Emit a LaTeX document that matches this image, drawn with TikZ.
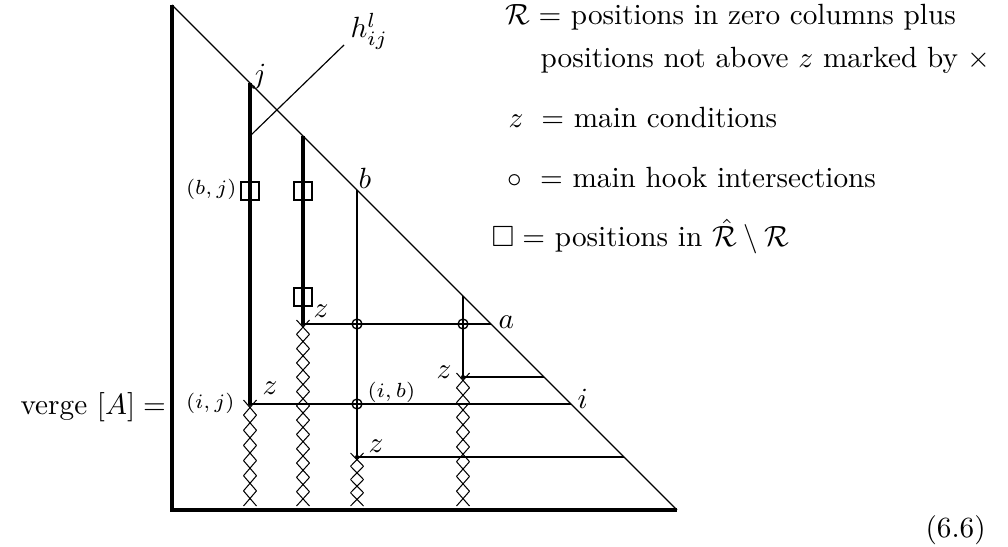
\documentclass[tikz,border=0pt]{standalone}
\usepackage{amsmath,amssymb}
\usetikzlibrary{positioning}

\tikzset{
  frame/.style={line width=1.15pt},
  heavycol/.style={line width=1.15pt},
  hookline/.style={line width=0.75pt},
  diag/.style={line width=0.4pt},
  xmark/.style={line width=0.35pt},
  boxmark/.style={draw, line width=0.7pt, minimum size=6.2pt, inner sep=0pt},
  hookmark/.style={draw, circle, line width=0.45pt, minimum size=3.4pt, inner sep=0pt},
  zdot/.style={fill, circle, minimum size=1.4pt, inner sep=0pt},
  lbl/.style={inner sep=0pt},
  smalllbl/.style={inner sep=0pt, font=\scriptsize},
}

% chain of crosses below a main condition
\newcommand{\xchain}[4]{%
  \pgfmathsetmacro{\xstep}{(#3-#2)/#4}
  \foreach \k in {1,...,#4}
    \draw[xmark] ({#1-6.5},{#2+(\k-1)*\xstep}) -- ({#1+6.5},{#2+\k*\xstep})
                 ({#1+6.5},{#2+(\k-1)*\xstep}) -- ({#1-6.5},{#2+\k*\xstep});
}

\begin{document}
\begin{tikzpicture}[x=0.342pt, y=-0.342pt]
  \useasboundingbox (0,0) rectangle (1008,547);

  % Triangle
  \coordinate (top) at (172,5);
  \coordinate (bl) at (172,510);
  \coordinate (br) at (677,510);
  \draw[frame] (top) -- (bl) -- (br);
  \draw[diag] (top) -- (br);

  % Column tops on the diagonal
  \coordinate (tj) at (250,83);
  \coordinate (t2) at (303,136);
  \coordinate (tb) at (357,190);
  \coordinate (ta) at (463,296);

  % Main conditions
  \node (ij) [zdot] at (250,404) {};
  \node (z2) [zdot] at (303,324) {};
  \node (zb) [zdot] at (357,457) {};
  \node (za) [zdot] at (463,377) {};

  % Row ends on the diagonal
  \coordinate (ea) at (491,324);
  \coordinate (e3) at (544,377);
  \coordinate (ei) at (571,404);
  \coordinate (e4) at (624,457);

  % Hooks
  \draw[heavycol] (tj) -- (ij.center);
  \draw[heavycol] (t2) -- (z2.center);
  \draw[hookline] (tb) -- (zb.center);
  \draw[hookline] (ta) -- (za.center);
  \draw[hookline] (z2.center) -- (ea);
  \draw[hookline] (za.center) -- (e3);
  \draw[hookline] (ij.center) -- (ei);
  \draw[hookline] (zb.center) -- (e4);

  % Hook intersections
  \node (ba) [hookmark] at (357,324) {};
  \node (aa) [hookmark] at (463,324) {};
  \node (ib) [hookmark] at (357,404) {};

  % Positions in R-hat minus R
  \node (bj) [boxmark] at (250,191) {};
  \node (b2) [boxmark] at (303,191) {};
  \node (c2) [boxmark] at (303,297) {};

  % Crosses
  \xchain{250}{400}{506}{7}
  \xchain{303}{320}{506}{13}
  \xchain{357}{453}{506}{4}
  \xchain{463}{373}{506}{9}

  % The hook h
  \coordinate (h0) at (250,136);
  \coordinate (h1) at (344,45);
  \draw[diag] (h0) -- (h1);
  \node (hl) [lbl, anchor=base west] at (350,38) {$h^l_{ij}$};

  % Labels
  \node (lj) [lbl, anchor=base west] at (252,84) {$j$};
  \node (lb) [lbl, anchor=base west] at (358,189) {$b$};
  \node (la) [lbl, anchor=base west] at (498,329) {$a$};
  \node (li) [lbl, anchor=base west] at (577,408) {$i$};
  \node (lz1) [lbl, anchor=base west] at (262,395) {$z$};
  \node (lz2) [lbl, anchor=base west] at (313,318) {$z$};
  \node (lz3) [lbl, anchor=base west] at (368,452) {$z$};
  \node (lz4) [lbl, anchor=base east] at (452,378) {$z$};
  \node (lib) [smalllbl, anchor=base west] at (367,398) {$(i,b)$};
  \node (lij) [smalllbl, anchor=base east] at (235,408) {$(i,j)$};
  \node (lbj) [smalllbl, anchor=base east] at (237,195) {$(b,j)$};

  % Legend
  \node (r1) [lbl, anchor=base west] at (505,25) {$\mathcal{R} =$ positions in zero columns plus};
  \node (r2) [lbl, anchor=base west] at (540,68) {positions not above $z$ marked by $\times$};
  \node (r3) [lbl, anchor=base west] at (508,128) {$z\ =$ main conditions};
  \node (r4) [lbl, anchor=base west] at (507,188) {$\circ\ =$ main hook intersections};
  \node (r5) [lbl, anchor=base west] at (491,247) {$\square =$ positions in $\hat{\mathcal{R}}\setminus\mathcal{R}$};

  % Left side and tag
  \node (verge) [lbl, anchor=base west] at (20,414) {verge $[A] =$};
  \node (tag) [lbl, anchor=base west] at (925,537) {(6.6)};
\end{tikzpicture}
\end{document}
